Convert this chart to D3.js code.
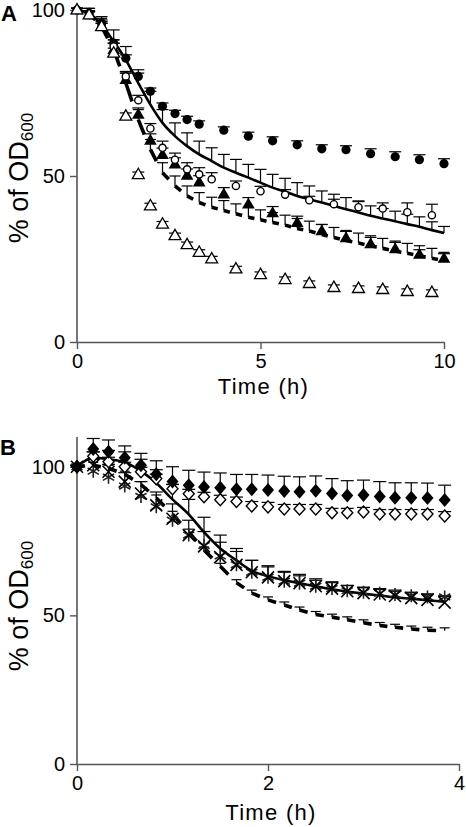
<!DOCTYPE html>
<html><head><meta charset="utf-8">
<script src="https://cdn.jsdelivr.net/npm/d3@7"></script>
<style>
html,body{margin:0;padding:0;background:#fff;}
svg{display:block;font-family:"Liberation Sans",Arial,sans-serif;}
</style></head>
<body>
<svg id="chart" width="466" height="827"></svg>
<script>
// ---------- Panel A data ----------
const tA1 = [0,0.33,0.67,1,1.33,1.67,2,2.33,2.67,3,3.33,4,4.67,5.33,6,6.67,7.33,8,8.67,9.33,10];
const tA2 = [0,0.33,0.67,1,1.33,1.67,2,2.33,2.67,3,3.33,3.67,4.33,5,5.67,6.33,7,7.67,8.33,9,9.67];
const tA3 = [0,0.33,0.67,1,1.33,1.67,2,2.33,2.67,3,3.33,3.67,4,4.33,4.67,5,5.33,5.67,6,6.33,6.67,7,7.33,7.67,8,8.33,8.67,9,9.33,9.67,10];

const aFilledCircle = [100,99,96,90,85.5,80,75.5,71,68.8,67,65.6,63.8,62,60.6,59.4,58.2,57.9,56.7,55.8,54.9,53.7];
const aFilledCircleErr = [0.5,0.8,1,1,1,1,1,1,1,1,1,1,1.2,1.2,1.2,1.2,1.2,1.5,1.5,1.5,1.5];
const aFilledTri = [100,98.5,95,88,79,68.5,60.7,56.4,53.5,50.1,48.1,44.5,41.5,38.8,35.9,33.4,31.3,29.5,28,26.3,25.1];
const aFilledTriErr = [0.5,1,1.5,2,2,2,2,2,2,2,2,2,2,2,2,2,2,2,2,1.5,1.5];
const aOpenCircle = [100,98.5,95,89,80,72.8,64.3,58.5,54.9,52,50.5,49,47,45.4,44.4,42.7,41.5,40.6,40.2,39.1,38.2];
const aOpenCircleErr = [0.5,1,1,1,1.5,1.5,1.5,2,2,2,2,2,1.5,1.5,1.5,1.2,1.5,1.7,1.7,2.8,3.3];
const aOpenTri = [100,98.5,95,87,68,50.4,41,35.5,32,29.3,27,25,22,20.3,18.8,17.6,16.4,16.1,15.8,15.2,14.9];
const aOpenTriErr = [0.5,1,1,1.5,1,0.8,0.8,0.8,0.8,0.8,0.8,0.8,0.8,0.8,0.8,0.8,0.8,0.8,0.8,0.8,0.8];
const aSolid = [100,99,95.5,90.5,85,78,71.5,66,62,59,56.5,54.5,52.5,51,49.5,48,46.5,45.3,44,43,42,41,40,39,38,37.2,36.4,35.5,34.7,33.7,32.8];
const aSolidErr = [0.5,1.5,2.5,3.5,4,4,4,4,4,4,4,4,4,4,4,4,4,4,4,4,3.5,3.5,3.5,3.5,3,3,3,3,3,2.5,2];
const aDashed = [100,99,95,88,78,67,58,51,47,44,42,40.6,39.6,38.6,37.6,36.8,36,35.2,34.2,33.4,32.4,31.5,30.6,29.8,29,28.2,27.4,26.7,26,25.2,24.5];
const aDashedErr = [0.5,1.5,2.5,3,3,3,3,3,3,3,3,3,3,3,3,3,3,3,3,3,3,3,3,3,3,3,3,3,3,3,2.5];

// ---------- Panel B data ----------
const tB = [0,0.17,0.33,0.5,0.67,0.83,1,1.17,1.33,1.5,1.67,1.83,2,2.17,2.33,2.5,2.67,2.83,3,3.17,3.33,3.5,3.67,3.85];
const bFilledDia = [100,106,105,103,100.5,97.5,95,93.8,93.2,92.9,92.4,92.4,92.2,91.8,91.6,91.9,91,90.3,90.5,90,89.6,89.6,89.5,88.8];
const bFilledDiaErr = [0.5,3.5,4,4,4,4.5,5,5,5,5,5,5,5,5,5,5,5,5,5,5,5,5,5,5];
const bOpenDia = [100,103.5,101.7,100,98.3,96,92.6,90.9,89.9,88.9,88.3,86.8,86.5,85.8,85.8,85.8,84.5,84.5,84.8,84.1,84.1,84.1,84.1,83.4];
const bOpenDiaErr = [0.5,1.5,1.5,1.5,1.5,1.5,1.5,1.5,1.5,1.5,1.5,1.5,1.5,1.5,1.5,1.5,1.5,1.5,1.5,1.5,1.5,1.5,1.5,1.5];
const bCross = [100,100.5,98.3,95,91,87,82.5,77,73.2,69.6,67,64.5,62.8,61.5,60.8,59.8,59,58.1,57.5,57,56.5,55.8,55.2,54.3];
const bCrossErr = [0.5,2,2.5,3,4,4.5,5,5,5,5,4.5,4,3.5,3,2.5,2,2,2,2,2,2,2,2,2];
const bStar = [100,98.5,96.5,93.5,90,86.5,82,77,73.5,70,67,64.5,62.8,61.5,60.8,59.8,59,58.3,57.8,57.4,57,56.6,56.2,56.2];
const bSolid = [100,103,102.5,101.5,98.5,94.5,89,84,78,72.5,68.5,65,63.2,61.8,60.8,59.8,58.8,58,57.3,56.7,56.1,55.6,55.1,54.6];
const bSolidErr = [0.5,2,3,3.5,4,4.5,5,5,5,4.5,4,3.5,3.5,3,3,2.5,2.5,2,2,2,2,2,2,2];
const bDashed = [100,100.5,99.5,97.5,94,89.5,84,78,72,66.5,61,57.5,55.2,53.5,51.8,50.3,49.4,48.5,47.5,46.6,46,45.4,45,44.8];
const bDashedErr = [0.5,1,1,1,1,1,1,1,1,1,1,1,1,1,1,1,1,1,1,1,1,1,1,1];

const ticksAx = [0,5,10], ticksBx = [0,2,4], ticksY = [0,50,100];

// ---------- drawing ----------
const svg = d3.select("#chart");
const FONT = '"Liberation Sans",Arial,sans-serif';

function zip(t, v, e){ return t.map((d,i)=>({t:d, v:v[i], e:e?e[i]:0})); }

function panel(cfg){
  const g = svg.append("g");
  const x = cfg.x, y = cfg.y;

  const xa = g.append("g").attr("transform",`translate(0,${y(0)})`)
    .call(d3.axisBottom(x).tickValues(cfg.xticks).tickFormat(d3.format("d")).tickSize(7).tickSizeOuter(0).tickPadding(5));
  const ya = g.append("g").attr("transform",`translate(${x(0)},0)`)
    .call(d3.axisLeft(y).tickValues(ticksY).tickFormat(d3.format("d")).tickSize(7).tickSizeOuter(0).tickPadding(5));
  [xa,ya].forEach(a=>{
    a.attr("font-size",20).attr("font-family",FONT);
    a.select(".domain").attr("stroke","#555").attr("stroke-width",1.6);
    a.selectAll(".tick line").attr("stroke","#555").attr("stroke-width",1.4);
    a.selectAll(".tick text").attr("fill","#000").style("font-size","20px").style("font-family",FONT);
  });
  ya.select(".domain").attr("d",`M0,${y.range()[0]}V${cfg.yTop}`);

  g.append("text").attr("x",cfg.letterX).attr("y",cfg.letterY)
    .style("font-size","22px").style("font-weight","bold").style("font-family",FONT).text(cfg.letter);
  g.append("text").attr("x",(x.range()[0]+x.range()[1])/2+3).attr("y",cfg.xTitleY)
    .attr("text-anchor","middle").style("font-size","22px").style("letter-spacing","1.3px")
    .style("font-family",FONT).text("Time (h)");
  const yt = g.append("text").attr("transform",`translate(28,${cfg.yTitleMid}) rotate(-90)`)
    .attr("text-anchor","middle").style("font-size","27px").style("font-family",FONT);
  yt.append("tspan").text("% of OD");
  yt.append("tspan").style("font-size","17px").attr("dy",5).text("600");

  const plot = g.append("g");

  function errs(data, w){
    const eg = plot.append("g").attr("stroke","#000").attr("stroke-width",1.2);
    data.forEach(d=>{
      if(d.e <= 0) return;
      const px = x(d.t), py0 = y(d.v), py1 = y(d.v + d.e);
      eg.append("line").attr("x1",px).attr("x2",px).attr("y1",py0).attr("y2",py1);
      eg.append("line").attr("x1",px-w/2).attr("x2",px+w/2).attr("y1",py1).attr("y2",py1);
    });
  }
  function solid(data){
    plot.append("path").datum(data).attr("fill","none").attr("stroke","#000").attr("stroke-width",2.6)
      .attr("d", d3.line().x(d=>x(d.t)).y(d=>y(d.v)).curve(d3.curveMonotoneX));
  }
  function dashed(data, frac){
    const dg = plot.append("g").attr("stroke","#000").attr("stroke-width",3.6).attr("stroke-linecap","butt");
    for(let i=0;i<data.length-1;i++){
      const a=data[i], b=data[i+1];
      const x1=x(a.t), y1=y(a.v), x2=x(b.t), y2=y(b.v);
      dg.append("line").attr("x1",x1).attr("y1",y1)
        .attr("x2",x1+(x2-x1)*frac).attr("y2",y1+(y2-y1)*frac);
    }
  }
  function markers(data, kind){
    const mg = plot.append("g");
    data.forEach(d=>{
      const px=x(d.t), py=y(d.v);
      const m = mg.append("g").attr("transform",`translate(${px},${py})`);
      if(kind==="fcircle") m.append("circle").attr("r",4.6).attr("fill","#000");
      else if(kind==="ocircle") m.append("circle").attr("r",3.6).attr("fill","#fff").attr("stroke","#000").attr("stroke-width",1.4);
      else if(kind==="ftri") m.append("path").attr("d",d3.symbol(d3.symbolTriangle,70)()).attr("fill","#000").attr("transform","translate(0,0.5)");
      else if(kind==="otri") m.append("path").attr("d",d3.symbol(d3.symbolTriangle,62)()).attr("fill","#fff").attr("stroke","#000").attr("stroke-width",1.3).attr("transform","translate(0,0.5)");
      else if(kind==="fdia") m.append("path").attr("d","M0,-7L6,0L0,7L-6,0Z").attr("fill","#000");
      else if(kind==="odia") m.append("path").attr("d","M0,-6L5.5,0L0,6L-5.5,0Z").attr("fill","#fff").attr("stroke","#000").attr("stroke-width",1.4);
      else if(kind==="cross") m.append("path").attr("d","M-6,-6L6,6M-6,6L6,-6").attr("stroke","#000").attr("stroke-width",1.6);
      else if(kind==="star") m.append("path").attr("d","M0,-6.5V6.5M-5.6,-3.2L5.6,3.2M-5.6,3.2L5.6,-3.2").attr("stroke","#222").attr("stroke-width",1.6);
    });
  }
  cfg.draw({errs, solid, dashed, markers});
}

// Panel A
const xA = d3.scaleLinear().domain([0,10]).range([77,444]);
const yA = d3.scaleLinear().domain([0,100]).range([342,10]);
panel({
  x:xA, y:yA, xticks:ticksAx, yTop:yA(100), letter:"A", letterX:1, letterY:21,
  xTitleY:394, yTitleMid:178,
  draw:({errs,solid,dashed,markers})=>{
    const sol = zip(tA3,aSolid,aSolidErr), das = zip(tA3,aDashed,aDashedErr);
    const fc = zip(tA1,aFilledCircle,aFilledCircleErr), ft = zip(tA1,aFilledTri,aFilledTriErr);
    const oc = zip(tA2,aOpenCircle,aOpenCircleErr), ot = zip(tA2,aOpenTri,aOpenTriErr);
    errs(sol,12); errs(das,11); errs(fc,12); errs(ft,12); errs(oc,12); errs(ot,12);
    solid(sol); dashed(das,0.5);
    markers(fc,"fcircle"); markers(ft,"ftri"); markers(oc,"ocircle"); markers(ot,"otri");
  }
});

// Panel B
const xB = d3.scaleLinear().domain([0,4]).range([77,459]);
const yB = d3.scaleLinear().domain([0,110]).range([764,437]);
panel({
  x:xB, y:yB, xticks:ticksBx, yTop:yB(110), letter:"B", letterX:0, letterY:455,
  xTitleY:820, yTitleMid:606,
  draw:({errs,solid,dashed,markers})=>{
    const sol = zip(tB,bSolid,bSolidErr), das = zip(tB,bDashed,bDashedErr);
    const fd = zip(tB,bFilledDia,bFilledDiaErr), od = zip(tB,bOpenDia,bOpenDiaErr);
    const cr = zip(tB,bCross,bCrossErr), st = zip(tB,bStar,null);
    errs(sol,13); errs(das,10); errs(fd,13); errs(od,13); errs(cr,13);
    solid(sol); dashed(das,0.5);
    markers(st,"star"); markers(cr,"cross"); markers(od,"odia"); markers(fd,"fdia");
  }
});
</script>
</body></html>
